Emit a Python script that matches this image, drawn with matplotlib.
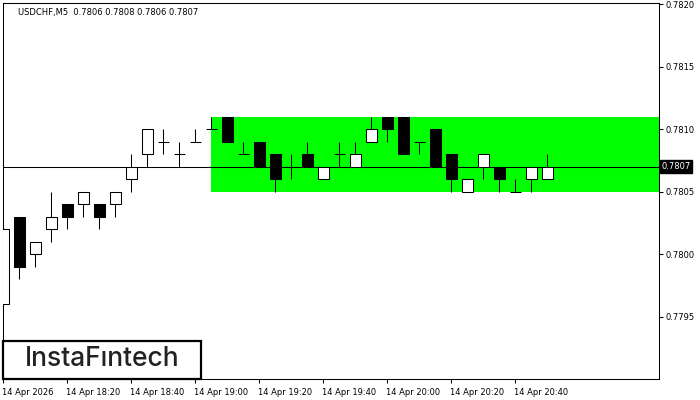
import matplotlib
matplotlib.use('Agg')
import matplotlib.pyplot as plt
from matplotlib.patches import Rectangle
import matplotlib.transforms as mtransforms

# ------------------------------
#  Dados USDCHF M5 (14 Apr 2026)
# ------------------------------
opens  = [0.7796, 0.7803, 0.7800, 0.7802, 0.7804, 0.7804, 0.7804, 0.7804, 0.7806, 0.7808,
          0.7809, 0.7808, 0.7809, 0.7810, 0.7811, 0.7808, 0.7809, 0.7808, 0.7807, 0.7808,
          0.7806, 0.7808, 0.7807, 0.7809, 0.7811, 0.7811, 0.7809, 0.7810, 0.7808, 0.7805,
          0.7807, 0.7807, 0.7805, 0.7806, 0.7806]
highs  = [0.7802, 0.7803, 0.7801, 0.7805, 0.7804, 0.7805, 0.7804, 0.7805, 0.7808, 0.7810,
          0.7810, 0.7809, 0.7810, 0.7811, 0.7811, 0.7809, 0.7809, 0.7808, 0.7808, 0.7809,
          0.7807, 0.7809, 0.7809, 0.7811, 0.7811, 0.7811, 0.7809, 0.7810, 0.7808, 0.7806,
          0.7808, 0.7807, 0.7806, 0.7807, 0.7808]
lows   = [0.7796, 0.7798, 0.7799, 0.7801, 0.7802, 0.7803, 0.7802, 0.7803, 0.7805, 0.7807,
          0.7808, 0.7807, 0.7809, 0.7810, 0.7809, 0.7808, 0.7807, 0.7805, 0.7806, 0.7807,
          0.7806, 0.7807, 0.7807, 0.7809, 0.7809, 0.7808, 0.7808, 0.7807, 0.7805, 0.7805,
          0.7806, 0.7805, 0.7805, 0.7805, 0.7806]
closes = [0.7802, 0.7799, 0.7801, 0.7803, 0.7803, 0.7805, 0.7803, 0.7805, 0.7807, 0.7810,
          0.7809, 0.7808, 0.7809, 0.7810, 0.7809, 0.7808, 0.7807, 0.7806, 0.7807, 0.7807,
          0.7807, 0.7808, 0.7808, 0.7810, 0.7810, 0.7808, 0.7809, 0.7807, 0.7806, 0.7806,
          0.7808, 0.7806, 0.7805, 0.7807, 0.7807]

x_tick_pos    = [0, 4, 8, 12, 16, 20, 24, 28, 32]
x_tick_labels = ['14 Apr 2026', '14 Apr 18:20', '14 Apr 18:40', '14 Apr 19:00', '14 Apr 19:20',
                 '14 Apr 19:40', '14 Apr 20:00', '14 Apr 20:20', '14 Apr 20:40']
y_ticks = [0.7795, 0.7800, 0.7805, 0.7810, 0.7815, 0.7820]

# zona retangular (padrão)
zone_start = 13
zone_low   = 0.7805
zone_high  = 0.7811
last_price = 0.7807

titulo = 'USDCHF,M5  0.7806 0.7808 0.7806 0.7807'

# -----------------
#  Figura e eixos
# -----------------
fig = plt.figure(figsize=(7, 4), dpi=100)
ax = fig.add_axes([3 / 700, 1 - 379.3 / 400, 656.3 / 700, 376.6 / 400])
ax.set_xlim(-0.03, 40.99)
ax.set_ylim(0.778998, 0.782012)

lw = 0.75
body_w = 0.66

# zona verde
ax.add_patch(Rectangle((zone_start, zone_low), 100, zone_high - zone_low,
                       facecolor='#00ff00', edgecolor='none', zorder=0))

# linha do preço atual
ax.axhline(last_price, color='black', linewidth=lw, zorder=1)

# candles
for i, (o, h, l, c) in enumerate(zip(opens, highs, lows, closes)):
    ax.vlines(i, l, h, color='black', linewidth=lw, zorder=2)
    if abs(c - o) < 1e-9:
        ax.hlines(o, i - body_w / 2, i + body_w / 2, color='black', linewidth=lw, zorder=3)
    else:
        cor = 'white' if c > o else 'black'
        ax.bar(i, abs(c - o), bottom=min(o, c), width=body_w, color=cor,
               edgecolor='black', linewidth=lw, zorder=3)

# eixos no estilo MT4
for s in ax.spines.values():
    s.set_linewidth(lw)
ax.yaxis.tick_right()
ax.set_yticks(y_ticks)
ax.set_yticklabels([f'{v:.4f}' for v in y_ticks])
ax.set_xticks(x_tick_pos)
ax.set_xticklabels(x_tick_labels, ha='left')
ax.tick_params(axis='both', labelsize=6, width=lw, length=3, color='black')
ax.tick_params(axis='y', pad=1.5)
ax.tick_params(axis='x', pad=3)
for lab in ax.get_xticklabels():
    lab.set_transform(lab.get_transform() + mtransforms.ScaledTranslation(-1 / 100, 0, fig.dpi_scale_trans))

# rótulo do preço atual
trans = mtransforms.blended_transform_factory(ax.transAxes, ax.transData)
ax.text(1.003, last_price, f'{last_price:.4f}', transform=trans, fontsize=6,
        color='white', va='center', ha='left',
        bbox=dict(boxstyle='square,pad=0.2', facecolor='black', edgecolor='black'),
        clip_on=False)

# título
fig.text(18 / 700, 1 - 12 / 400, titulo, fontsize=6, color='black', va='center', ha='left')

# logo
fig.add_artist(Rectangle((3 / 700, 1 - 379 / 400), 198 / 700, 38 / 400, transform=fig.transFigure,
                         facecolor='white', edgecolor='black', linewidth=1.6, zorder=5))
fig.text(102 / 700, 1 - 359 / 400, 'InstaFıntech', fontsize=19, color='#222222',
         family='Inter', fontweight='medium', ha='center', va='center', zorder=6)

fig.savefig('out.png', dpi=100)
